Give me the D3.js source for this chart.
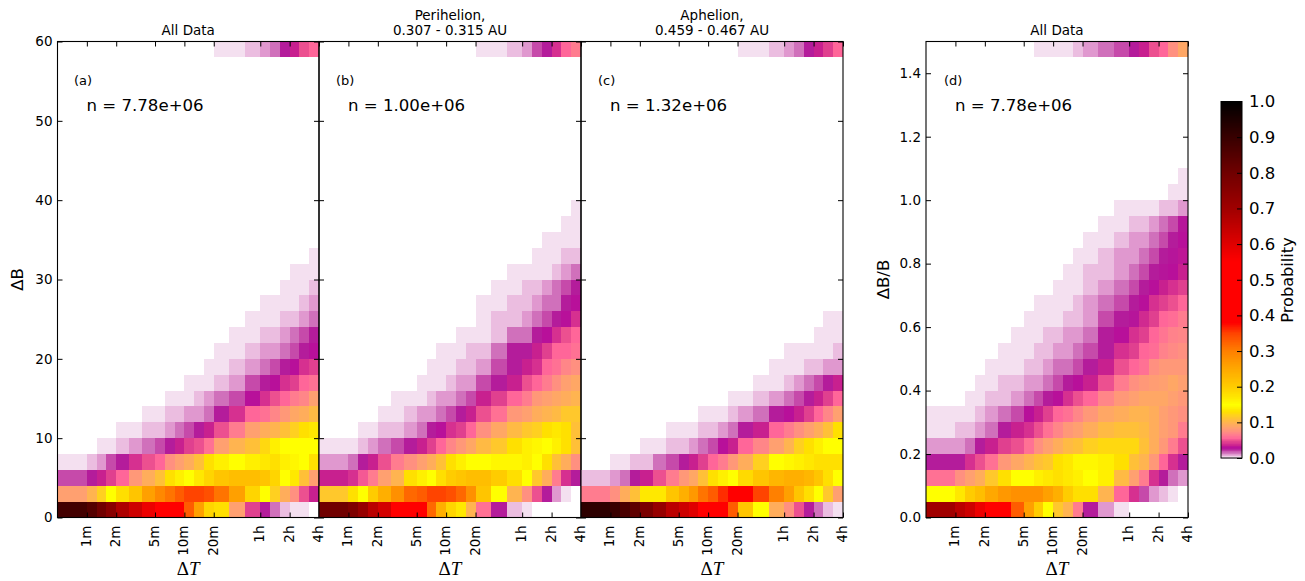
<!DOCTYPE html>
<html><head><meta charset="utf-8">
<script src="https://cdn.jsdelivr.net/npm/d3@7/dist/d3.min.js"></script>
<style>
html,body{margin:0;padding:0;background:#fff}
svg{display:block}
text{font-family:"DejaVu Sans",sans-serif;fill:#000}
</style></head><body>
<div id="chart"></div>
<script>
// ΔT bin edges in minutes (22 bins)
const dtEdges = [0.5,1,1.26,1.587,2,2.714,3.684,5,6.3,7.937,10,12.6,15.87,20,28.84,41.6,60,75.6,95.24,120,151.2,190.5,240];
const dtTickValues = [1,2,5,10,20,60,120,240];
const dtTickLabels = ["1m","2m","5m","10m","20m","1h","2h","4h"];
const probTicks = [0,0.1,0.2,0.3,0.4,0.5,0.6,0.7,0.8,0.9,1.0];

// Probability per cell, rows bottom-up, 0 = no samples
const cellsA = [
[.88,.85,.8,.75,.68,.63,.58,.45,.45,.45,.33,.26,.19,.18,.085,.045,.025,.015,.006,.002,.002,0],
[.085,.1,.12,.15,.18,.21,.26,.29,.31,.33,.35,.35,.34,.31,.26,.19,.15,.12,.095,.075,.05,.035],
[.02,.025,.035,.045,.055,.08,.095,.11,.13,.14,.15,.17,.19,.21,.22,.22,.21,.19,.15,.17,.11,.085],
[.002,.006,.01,.02,.025,.04,.05,.055,.075,.085,.095,.11,.13,.14,.15,.14,.135,.13,.14,.145,.15,.13],
[0,0,.002,.002,.006,.01,.015,.02,.025,.035,.045,.05,.06,.085,.1,.11,.125,.14,.15,.15,.15,.15],
[0,0,0,0,.002,.002,.006,.006,.01,.015,.02,.025,.035,.05,.065,.085,.095,.1,.11,.12,.13,.135],
[0,0,0,0,0,0,.002,.002,.006,.006,.01,.01,.015,.025,.04,.055,.06,.07,.08,.09,.095,.105],
[0,0,0,0,0,0,0,0,.002,.002,.002,.006,.01,.015,.02,.03,.04,.05,.055,.065,.07,.085],
[0,0,0,0,0,0,0,0,0,0,.002,.002,.002,.006,.01,.02,.025,.03,.04,.045,.055,.06],
[0,0,0,0,0,0,0,0,0,0,0,0,.002,.002,.006,.01,.015,.02,.025,.03,.04,.045],
[0,0,0,0,0,0,0,0,0,0,0,0,0,.002,.002,.006,.01,.01,.015,.02,.025,.03],
[0,0,0,0,0,0,0,0,0,0,0,0,0,0,.002,.002,.006,.006,.01,.015,.02,.025],
[0,0,0,0,0,0,0,0,0,0,0,0,0,0,0,.002,.002,.002,.006,.006,.01,.015],
[0,0,0,0,0,0,0,0,0,0,0,0,0,0,0,0,.002,.002,.002,.002,.006,.01],
[0,0,0,0,0,0,0,0,0,0,0,0,0,0,0,0,0,0,.002,.002,.002,.006],
[0,0,0,0,0,0,0,0,0,0,0,0,0,0,0,0,0,0,0,.002,.002,.002],
[0,0,0,0,0,0,0,0,0,0,0,0,0,0,0,0,0,0,0,0,0,.002]
];
const topRowA = [0,0,0,0,0,0,0,0,0,0,0,0,0,.002,.002,.006,.01,.015,.025,.035,.05,.055];

const cellsB = [
[.8,.77,.72,.66,.62,.5,.45,.45,.32,.24,.19,.17,.1,.06,.025,.006,.002,0,0,0,0,0],
[.115,.13,.15,.2,.24,.28,.32,.33,.35,.35,.34,.32,.28,.21,.15,.1,.075,.05,.025,.01,.002,0],
[.035,.04,.052,.065,.085,.1,.13,.14,.15,.18,.2,.21,.22,.22,.2,.18,.15,.115,.095,.065,.04,.025],
[.01,.015,.025,.035,.05,.065,.075,.085,.095,.11,.13,.14,.15,.15,.145,.145,.14,.15,.13,.11,.095,.075],
[.002,.002,.006,.01,.015,.02,.025,.035,.045,.055,.07,.08,.09,.105,.115,.13,.14,.145,.15,.14,.13,.11],
[0,0,.002,.002,.006,.006,.01,.015,.025,.03,.04,.045,.055,.075,.09,.105,.115,.12,.13,.135,.13,.11],
[0,0,0,0,.002,.002,.006,.01,.01,.015,.02,.025,.035,.05,.06,.08,.085,.095,.1,.105,.115,.115],
[0,0,0,0,0,.002,.002,.002,.006,.01,.01,.015,.02,.035,.045,.055,.065,.08,.085,.09,.095,.1],
[0,0,0,0,0,0,0,.002,.002,.002,.006,.01,.01,.02,.025,.035,.05,.055,.065,.075,.085,.09],
[0,0,0,0,0,0,0,0,.002,.002,.002,.006,.006,.01,.02,.025,.035,.04,.055,.06,.07,.075],
[0,0,0,0,0,0,0,0,0,.002,.002,.002,.006,.006,.015,.025,.025,.035,.045,.055,.055,.06],
[0,0,0,0,0,0,0,0,0,0,0,.002,.002,.002,.006,.015,.015,.025,.03,.04,.05,.055],
[0,0,0,0,0,0,0,0,0,0,0,0,0,.002,.006,.006,.01,.015,.02,.025,.03,.04],
[0,0,0,0,0,0,0,0,0,0,0,0,0,.002,.002,.006,.006,.01,.015,.015,.025,.03],
[0,0,0,0,0,0,0,0,0,0,0,0,0,0,.002,.002,.006,.006,.01,.015,.02,.025],
[0,0,0,0,0,0,0,0,0,0,0,0,0,0,0,.002,.002,.002,.002,.006,.01,.015],
[0,0,0,0,0,0,0,0,0,0,0,0,0,0,0,0,0,.002,.002,.002,.006,.006],
[0,0,0,0,0,0,0,0,0,0,0,0,0,0,0,0,0,0,.002,.002,.002,.002],
[0,0,0,0,0,0,0,0,0,0,0,0,0,0,0,0,0,0,0,0,.002,.002],
[0,0,0,0,0,0,0,0,0,0,0,0,0,0,0,0,0,0,0,0,0,.002]
];
const topRowB = [0,0,0,0,0,0,0,0,0,0,0,0,0,.002,.002,.006,.01,.02,.025,.04,.055,.065];

const cellsC = [
[.92,.9,.87,.83,.78,.72,.66,.63,.6,.5,.45,.42,.33,.21,.15,.095,.075,.05,.025,.015,.006,.002],
[.065,.075,.095,.11,.17,.17,.21,.24,.27,.31,.33,.36,.38,.38,.35,.3,.26,.21,.18,.15,.115,.085],
[.006,.01,.015,.025,.035,.05,.065,.08,.09,.11,.13,.14,.15,.185,.21,.23,.24,.24,.23,.21,.18,.15],
[0,.002,.002,.006,.006,.015,.02,.025,.035,.045,.055,.065,.08,.095,.12,.15,.145,.14,.135,.13,.13,.13],
[0,0,0,0,.002,.002,.006,.006,.01,.015,.02,.03,.035,.055,.07,.085,.1,.12,.13,.14,.15,.15],
[0,0,0,0,0,0,.002,.002,.002,.006,.006,.01,.015,.025,.035,.055,.065,.075,.085,.095,.11,.13],
[0,0,0,0,0,0,0,0,0,.002,.002,.002,.006,.01,.015,.025,.03,.035,.045,.055,.07,.085],
[0,0,0,0,0,0,0,0,0,0,0,0,.002,.002,.006,.01,.015,.02,.025,.035,.045,.055],
[0,0,0,0,0,0,0,0,0,0,0,0,0,0,.002,.002,.006,.01,.015,.02,.025,.035],
[0,0,0,0,0,0,0,0,0,0,0,0,0,0,0,.002,.002,.002,.006,.006,.01,.01],
[0,0,0,0,0,0,0,0,0,0,0,0,0,0,0,0,.002,.002,.002,.002,.002,.006],
[0,0,0,0,0,0,0,0,0,0,0,0,0,0,0,0,0,0,0,.002,.002,.002],
[0,0,0,0,0,0,0,0,0,0,0,0,0,0,0,0,0,0,0,0,.002,.002]
];
const topRowC = [0,0,0,0,0,0,0,0,0,0,0,0,0,.002,.002,.006,.01,.015,.025,.035,.045,.055];

const cellsD = [
[.7,.66,.63,.58,.5,.45,.33,.26,.2,.15,.115,.1,.065,.025,.01,.002,0,0,0,0,0,0],
[.15,.17,.2,.22,.25,.27,.28,.28,.28,.26,.24,.2,.18,.18,.1,.055,.04,.02,.01,.006,.002,0],
[.06,.075,.085,.095,.115,.13,.15,.15,.14,.135,.13,.135,.14,.15,.14,.105,.085,.065,.04,.025,.015,.01],
[.025,.025,.04,.05,.06,.08,.09,.1,.11,.115,.13,.135,.145,.145,.14,.13,.11,.1,.08,.055,.04,.025],
[.01,.01,.015,.025,.035,.045,.05,.06,.075,.085,.095,.105,.11,.12,.125,.125,.125,.11,.095,.08,.065,.05],
[.002,.006,.006,.01,.015,.025,.035,.04,.05,.06,.07,.08,.085,.095,.105,.11,.11,.105,.095,.085,.08,.065],
[.002,.002,.002,.006,.01,.015,.02,.03,.035,.045,.055,.06,.07,.08,.09,.095,.1,.1,.095,.085,.08,.075],
[0,0,.002,.002,.006,.006,.01,.015,.02,.025,.03,.04,.05,.055,.07,.08,.085,.09,.09,.09,.085,.08],
[0,0,0,.002,.002,.006,.006,.01,.01,.015,.02,.025,.03,.035,.05,.065,.075,.08,.083,.085,.09,.085],
[0,0,0,0,.002,.002,.002,.006,.006,.01,.015,.015,.02,.025,.035,.05,.055,.06,.075,.08,.08,.08],
[0,0,0,0,0,.002,.002,.002,.006,.006,.01,.01,.015,.02,.025,.04,.045,.055,.058,.068,.072,.075],
[0,0,0,0,0,0,.002,.002,.002,.006,.006,.01,.01,.015,.025,.03,.04,.045,.055,.062,.068,.07],
[0,0,0,0,0,0,0,.002,.002,.002,.002,.006,.006,.01,.02,.025,.028,.038,.045,.055,.058,.065],
[0,0,0,0,0,0,0,0,.002,.002,.002,.002,.006,.01,.015,.02,.025,.03,.04,.045,.05,.055],
[0,0,0,0,0,0,0,0,0,0,.002,.002,.002,.006,.01,.015,.02,.025,.03,.035,.04,.045],
[0,0,0,0,0,0,0,0,0,0,0,.002,.002,.006,.006,.01,.015,.02,.025,.028,.03,.035],
[0,0,0,0,0,0,0,0,0,0,0,0,.002,.002,.006,.01,.01,.015,.02,.025,.028,.032],
[0,0,0,0,0,0,0,0,0,0,0,0,0,.002,.002,.006,.01,.01,.015,.02,.025,.03],
[0,0,0,0,0,0,0,0,0,0,0,0,0,0,.002,.002,.006,.006,.01,.015,.02,.028],
[0,0,0,0,0,0,0,0,0,0,0,0,0,0,0,.002,.002,.002,.002,.006,.006,.01],
[0,0,0,0,0,0,0,0,0,0,0,0,0,0,0,0,0,0,0,0,.002,.002],
[0,0,0,0,0,0,0,0,0,0,0,0,0,0,0,0,0,0,0,0,0,.002]
];
const topRowD = [0,0,0,0,0,0,0,0,.002,.002,.002,.002,.006,.01,.015,.02,.025,.035,.05,.055,.075,.09];

// Colour map of the reference (value → colour)
const cmapStops = [0,.002,.006,.01,.015,.02,.025,.03,.035,.04,.045,.05,.055,.065,.075,.085,.1,.11,.12,.13,.15,.17,.2,.25,.3,.35,.38,.55,.6,.7,.8,.9,1];
const cmapColors = ["#f3e0f0","#f4e0f0","#ebbde0","#e098cf","#d070bb","#c64aaa","#b41c9b","#b8109a","#c8208f","#d63090","#e0408f","#ec5090","#ff6699","#ff7c8f","#ff9080","#ffa070","#ffb450","#ffc038","#ffd020","#ffe000","#ffff00","#ffe800","#ffcc00","#ffa800","#ff8000","#ff4400","#ff0000","#ff0000","#e00000","#a00000","#700000","#380000","#000000"];

const W = 1305, H = 581;
const plotTop = 41.5, plotBottom = 517.5;
const color = d3.scaleLinear().domain(cmapStops).range(cmapColors).clamp(true);

const svg = d3.select("#chart").append("svg").attr("width",W).attr("height",H);

const panels = [
 {x0:57.5,x1:319,cells:cellsA,top:topRowA,yMax:60,yTicks:[0,10,20,30,40,50,60],fmt:d=>d,yLab:"ΔB",yLabX:23,tag:"(a)",tagDx:16.5,n:"n = 7.78e+06",title:["All Data"]},
 {x0:319,x1:581,cells:cellsB,top:topRowB,yMax:60,yTicks:[0,10,20,30,40,50,60],tag:"(b)",tagDx:17,n:"n = 1.00e+06",title:["Perihelion,","0.307 - 0.315 AU"]},
 {x0:581,x1:843,cells:cellsC,top:topRowC,yMax:60,yTicks:[0,10,20,30,40,50,60],tag:"(c)",tagDx:17,n:"n = 1.32e+06",title:["Aphelion,","0.459 - 0.467 AU"]},
 {x0:926,x1:1188,cells:cellsD,top:topRowD,yMax:1.5,yTicks:[0,.2,.4,.6,.8,1,1.2,1.4],fmt:d3.format(".1f"),yLab:"ΔB/B",yLabX:889,tag:"(d)",tagDx:18,n:"n = 7.78e+06",title:["All Data"]}
];

panels.forEach(p=>{
  const g = svg.append("g");
  const x = d3.scaleLog().base(2).domain([dtEdges[0],dtEdges[dtEdges.length-1]]).range([p.x0,p.x1]);
  const y = d3.scaleLinear().domain([0,p.yMax]).range([plotBottom,plotTop]);
  const dy = p.yMax/30;
  const rows = p.cells.map((r,i)=>({r,i})).concat([{r:p.top,i:29}]);
  const cells = [];
  rows.forEach(({r,i})=>r.forEach((v,c)=>{ if(v>0) cells.push({v,c,i}); }));
  g.selectAll("rect.cell").data(cells).join("rect")
    .attr("class","cell")
    .attr("x",d=>Math.round(x(dtEdges[d.c]))).attr("width",d=>Math.round(x(dtEdges[d.c+1]))-Math.round(x(dtEdges[d.c])))
    .attr("y",d=>Math.round(y((d.i+1)*dy))).attr("height",d=>Math.round(y(d.i*dy))-Math.round(y((d.i+1)*dy)))
    .attr("fill",d=>color(d.v)).attr("shape-rendering","crispEdges");

  // frame
  g.append("rect").attr("x",p.x0).attr("y",plotTop).attr("width",p.x1-p.x0).attr("height",plotBottom-plotTop)
    .attr("fill","none").attr("stroke","#000").attr("stroke-width",1.1);

  // x axes (inward ticks at bottom and top)
  const axB = d3.axisBottom(x).tickValues(dtTickValues).tickFormat((d,i)=>dtTickLabels[i]).tickSize(-5);
  const gB = g.append("g").attr("transform",`translate(0,${plotBottom})`).call(axB);
  gB.select(".domain").remove();
  gB.selectAll("text").attr("font-size",13.5).attr("text-anchor","end").attr("dominant-baseline","central")
    .attr("transform","rotate(-90)").attr("x",-8).attr("y",-1.5).attr("dy",0);
  const axT = d3.axisTop(x).tickValues(dtTickValues).tickFormat("").tickSize(-5);
  const gT = g.append("g").attr("transform",`translate(0,${plotTop})`).call(axT);
  gT.select(".domain").remove();

  // y axes (inward ticks left and right)
  const axL = d3.axisLeft(y).tickValues(p.yTicks).tickSize(-5).tickPadding(5).tickFormat(p.fmt||"");
  const gL = g.append("g").attr("transform",`translate(${p.x0},0)`).call(axL);
  gL.select(".domain").remove();
  gL.selectAll("text").attr("font-size",13.5);
  const axR = d3.axisRight(y).tickValues(p.yTicks).tickSize(-5).tickFormat("");
  const gR = g.append("g").attr("transform",`translate(${p.x1},0)`).call(axR);
  gR.select(".domain").remove();
  g.selectAll(".tick line").attr("stroke","#000").attr("stroke-width",1);

  // labels
  const cx = (p.x0+p.x1)/2;
  const xl = g.append("text").attr("x",cx).attr("y",574.5).attr("text-anchor","middle").attr("font-size",19);
  xl.append("tspan").attr("font-family","'Liberation Serif',serif").text("Δ");
  xl.append("tspan").attr("font-family","'Liberation Serif',serif").attr("font-style","italic").text("T");

  if(p.yLab){
    g.append("text").attr("transform",`translate(${p.yLabX},${(plotTop+plotBottom)/2}) rotate(-90)`)
      .attr("text-anchor","middle").attr("font-size",16.5).text(p.yLab);
  }
  p.title.forEach((t,i)=>{
    g.append("text").attr("x",cx).attr("y",35-(p.title.length-1-i)*15).attr("text-anchor","middle").attr("font-size",13.5).text(t);
  });
  g.append("text").attr("x",p.x0+p.tagDx).attr("y",85).attr("font-size",13).text(p.tag);
  g.append("text").attr("x",p.x0+29).attr("y",110.5).attr("font-size",16.6).text(p.n);
});

// colour bar
const cbL=1221, cbR=1242, cbT=101.5, cbB=458;
const cy = d3.scaleLinear().domain([0,1]).range([cbB,cbT]);
const strip = d3.range(0,1,0.002);
svg.append("g").selectAll("rect").data(strip).join("rect")
  .attr("x",cbL).attr("width",cbR-cbL).attr("y",d=>cy(d+0.002)).attr("height",d=>cy(d)-cy(d+0.002)+0.6)
  .attr("fill",d=>color(d)).attr("shape-rendering","crispEdges");
svg.append("rect").attr("x",cbL).attr("y",cbT).attr("width",cbR-cbL).attr("height",cbB-cbT)
  .attr("fill","none").attr("stroke","#000").attr("stroke-width",1);
const cbAxis = d3.axisRight(cy).tickValues(probTicks).tickFormat(d3.format(".1f")).tickSize(-5).tickPadding(7);
const gCb = svg.append("g").attr("transform",`translate(${cbR},0)`).call(cbAxis);
gCb.select(".domain").remove();
gCb.selectAll("text").attr("font-size",16.5);
gCb.selectAll(".tick line").attr("stroke","#000");
svg.append("text").attr("transform",`translate(1293,280) rotate(-90)`).attr("text-anchor","middle").attr("font-size",16.2).text("Probability");
</script>
</body></html>
